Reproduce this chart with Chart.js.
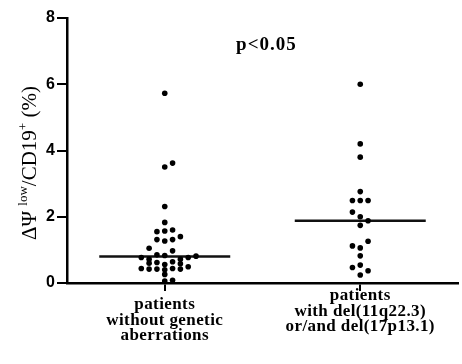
<!DOCTYPE html>
<html>
<head>
<meta charset="utf-8">
<script src="https://cdn.jsdelivr.net/npm/chart.js@4.4.1/dist/chart.umd.min.js"></script>
<style>
  body { margin: 0; background: #fff; }
  #wrap { width: 462px; height: 364px; }
</style>
</head>
<body>
<div id="wrap"><canvas id="grafico"></canvas></div>
<script>
// values
const categories = [
  ["patients", "without genetic", "aberrations"],
  ["patients", "with del(11q22.3)", "or/and del(17p13.1)"]
];
const yTicks = [0, 2, 4, 6, 8];

const groupOneValues = [5.73, 3.50, 3.62, 2.31, 1.83, 1.55, 1.57, 1.60, 1.40, 1.31, 1.27, 1.31,
  1.05, 0.77, 0.72, 0.85, 0.83, 0.97, 0.72, 0.77, 0.81, 0.60, 0.62, 0.56, 0.64, 0.58,
  0.44, 0.42, 0.42, 0.40, 0.44, 0.42, 0.49, 0.26, 0.06, 0.08];
// beeswarm column of each dot (0 = on the category)
const groupOneCols = [0, 0, 1, 0, 0, -1, 0, 1, 2, -1, 0, 1,
  -2, -3, -2, -1, 0, 1, 2, 3, 4, -2, -1, 0, 1, 2,
  -3, -2, -1, 0, 1, 2, 3, 0, 0, 1];

const groupTwoValues = [6.0, 4.2, 3.8, 2.76, 2.49, 2.49, 2.49, 2.14, 2.0, 1.88, 1.74,
  1.26, 1.12, 1.06, 0.82, 0.54, 0.47, 0.37, 0.24];
const groupTwoCols = [0, 0, 0, 0, -1, 0, 1, -1, 0, 1, 0,
  1, -1, 0, 0, 0, -1, 1, 0];

const medianValues = [0.8, 1.88];
const pText = "p<0.05";

const colStep = 0.04;
const medianHalf = 0.335;

function pontos(valores, colunas, cat) {
  return valores.map((v, i) => ({ x: cat + colunas[i] * colStep, y: v }));
}

function linhaMediana(i) {
  return [{ x: i + 1 - medianHalf, y: medianValues[i] }, { x: i + 1 + medianHalf, y: medianValues[i] }];
}

const textos = {
  id: "textos",
  afterDraw(chart) {
    const ctx = chart.ctx;
    const xs = chart.scales.x;
    const ys = chart.scales.y;
    ctx.save();
    ctx.fillStyle = "#000";
    // category labels
    ctx.font = "bold 17px 'Liberation Serif'";
    ctx.letterSpacing = "0.4px";
    ctx.textAlign = "center";
    ctx.textBaseline = "middle";
    const topo = [xs.top + 22, xs.top + 13];
    categories.forEach((linhas, i) => {
      const px = xs.getPixelForValue(i + 1);
      linhas.forEach((l, j) => ctx.fillText(l, px, topo[i] + j * 15.5));
    });
    // p value
    ctx.font = "bold 19px 'Liberation Serif'";
    ctx.letterSpacing = "1px";
    ctx.fillText(pText, xs.getPixelForValue(1.52), ys.getPixelForValue(7.18));
    ctx.letterSpacing = "0px";

    // y title with superscripts
    const partes = [
      { t: "\u0394\u03A8 ", f: "21px 'Liberation Serif'", up: 0 },
      { t: "low", f: "13px 'Liberation Serif'", up: 9 },
      { t: "/CD19", f: "21px 'Liberation Serif'", up: 0 },
      { t: "+", f: "13px 'Liberation Serif'", up: 9 },
      { t: " (%)", f: "21px 'Liberation Serif'", up: 0 }
    ];
    let total = 0;
    partes.forEach(p => { ctx.font = p.f; total += ctx.measureText(p.t).width; });
    ctx.translate(36, 163);
    ctx.rotate(-Math.PI / 2);
    ctx.textAlign = "left";
    ctx.textBaseline = "alphabetic";
    let x = -total / 2;
    partes.forEach(p => {
      ctx.font = p.f;
      ctx.fillText(p.t, x, -p.up);
      x += ctx.measureText(p.t).width;
    });
    ctx.restore();
  }
};

new Chart(document.getElementById("grafico"), {
  type: "scatter",
  data: {
    datasets: [
      { data: pontos(groupOneValues, groupOneCols, 1), backgroundColor: "#000", borderWidth: 0, pointRadius: 2.8 },
      { data: pontos(groupTwoValues, groupTwoCols, 2), backgroundColor: "#000", borderWidth: 0, pointRadius: 2.8 },
      { type: "line", data: linhaMediana(0), borderColor: "#111", borderWidth: 2.5, pointRadius: 0 },
      { type: "line", data: linhaMediana(1), borderColor: "#111", borderWidth: 2.5, pointRadius: 0 }
    ]
  },
  options: {
    responsive: true,
    maintainAspectRatio: false,
    animation: false,
    layout: { padding: { top: 18, right: 0, left: 0, bottom: 0 } },
    plugins: { legend: { display: false }, tooltip: { enabled: false } },
    scales: {
      x: {
        type: "linear",
        min: 0.5,
        max: 2.5,
        afterBuildTicks: s => { s.ticks = categories.map((c, i) => ({ value: i + 1 })); },
        afterFit: s => { s.height = 81; },
        ticks: { display: false },
        grid: { drawOnChartArea: false, drawTicks: true, tickLength: 8, color: "#000", lineWidth: 2 },
        border: { display: true, color: "#000", width: 2.5 }
      },
      y: {
        min: 0,
        max: 8,
        afterBuildTicks: s => { s.ticks = yTicks.map(v => ({ value: v })); },
        afterFit: s => { s.width = 67; },
        ticks: { color: "#000", font: { family: "'Liberation Sans'", size: 16, weight: "bold" }, padding: 2 },
        grid: { drawOnChartArea: false, drawTicks: true, tickLength: 10, color: "#000", lineWidth: 2 },
        border: { display: true, color: "#000", width: 2.5 }
      }
    }
  },
  plugins: [textos]
});
</script>
</body>
</html>
